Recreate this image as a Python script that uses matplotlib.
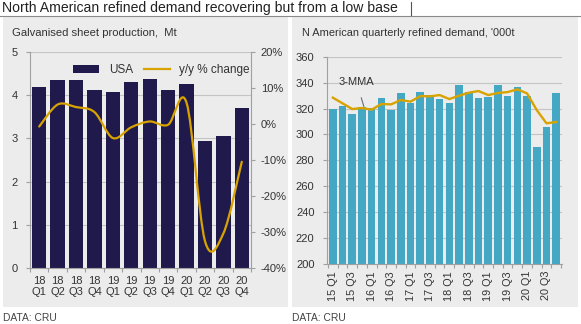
import matplotlib
matplotlib.use("Agg")
import matplotlib.pyplot as plt
from matplotlib.patches import Rectangle, Patch, PathPatch
from matplotlib.lines import Line2D
from matplotlib.path import Path
import numpy as np

plt.rcParams['font.family'] = ['Liberation Sans', 'DejaVu Sans']

# ---- data: left chart ----
left_quarters = ["18\nQ1", "18\nQ2", "18\nQ3", "18\nQ4", "19\nQ1", "19\nQ2",
                 "19\nQ3", "19\nQ4", "20\nQ1", "20\nQ2", "20\nQ3", "20\nQ4"]
usa_production = [4.2, 4.35, 4.35, 4.13, 4.07, 4.3, 4.38, 4.13, 4.27, 2.95, 3.05, 3.7]
yoy_change = [-0.7, 5.4, 4.7, 3.3, -3.9, -0.9, 0.7, -0.2, 5.9, -32.5, -30.4, -10.5]

# ---- data: right chart ----
right_quarters = [f"{y} Q{q}" for y in range(15, 21) for q in range(1, 5)]
na_demand = [320, 322, 316, 321, 320.5, 328.4, 319, 332, 324, 332.5, 330.4, 327.3,
             324, 338.4, 333, 328.4, 329, 337.9, 330, 336.6, 330, 290, 305.5, 332]
mma3 = [328.4, 324, 319.6, 320.4, 319.1, 323.5, 323.2, 326.6, 325.3, 329.6, 329.4, 330.4,
        327.3, 329.9, 332.2, 333.5, 330.4, 332, 332.7, 334.8, 331.7, 318.8, 308.6, 309.6]

NAVY = "#1f1a4b"
TEAL = "#44a8c5"
GOLD = "#d8a300"
PANEL = "#ececec"
GRID = "#c4c4c4"
SPINE = "#a0a0a0"
TXT = "#333333"

W, H = 581, 324
fig = plt.figure(figsize=(W / 100, H / 100), dpi=100)
fig.patch.set_facecolor("white")

def fx(px):
    return px / W

def fy(py):
    return 1 - py / H

# panels
for x0, x1 in [(3, 288), (292, 578)]:
    fig.patches.append(Rectangle((fx(x0), fy(307)), fx(x1 - x0), (307 - 17) / H,
                                 transform=fig.transFigure, facecolor=PANEL,
                                 edgecolor="none", zorder=-5))

# title + rule
fig.text(fx(2), fy(8), "North American refined demand recovering but from a low base",
         fontsize=10.1, color="#222222", va="center", ha="left")
fig.lines.append(Line2D([0, 1], [fy(16), fy(16)], transform=fig.transFigure,
                        color="#8a8a8a", lw=0.8))
fig.lines.append(Line2D([fx(411), fx(411)], [fy(2), fy(15)], transform=fig.transFigure,
                        color="#555555", lw=0.8))

fig.text(fx(12), fy(33), "Galvanised sheet production,  Mt", fontsize=8.1,
         color=TXT, va="center", ha="left")
fig.text(fx(302), fy(33), "N American quarterly refined demand, '000t", fontsize=7.9,
         color=TXT, va="center", ha="left")
fig.text(fx(3), fy(318), "DATA: CRU", fontsize=7.4, color="#444444", va="center")
fig.text(fx(292), fy(318), "DATA: CRU", fontsize=7.4, color="#444444", va="center")


def smooth_path(xs, ys):
    pts = np.column_stack([xs, ys]).astype(float)
    n = len(pts)
    verts = [pts[0]]
    codes = [Path.MOVETO]
    for i in range(n - 1):
        p0 = pts[max(i - 1, 0)]
        p1 = pts[i]
        p2 = pts[i + 1]
        p3 = pts[min(i + 2, n - 1)]
        c1 = p1 + (p2 - p0) / 6.0
        c2 = p2 - (p3 - p1) / 6.0
        verts += [c1, c2, p2]
        codes += [Path.CURVE4] * 3
    return Path(verts, codes)


def style_axes(ax):
    ax.set_facecolor("none")
    for s in ["top", "right"]:
        ax.spines[s].set_visible(False)
    ax.spines["left"].set_color(SPINE)
    ax.spines["bottom"].set_color(SPINE)
    ax.tick_params(axis="both", colors=SPINE, labelcolor=TXT, labelsize=8, length=3, width=0.8)
    ax.grid(axis="y", color=GRID, lw=0.8)
    ax.set_axisbelow(True)


# ---- left chart ----
axL = fig.add_axes([fx(30), fy(268), fx(251 - 30), (268 - 52) / H])
style_axes(axL)
xl = np.arange(len(usa_production))
axL.bar(xl, usa_production, width=0.78, color=NAVY, zorder=2)
axL.set_xlim(-0.5, len(xl) - 0.5)
axL.set_ylim(0, 5)
axL.set_yticks([0, 1, 2, 3, 4, 5])
axL.set_xticks(xl)
axL.set_xticklabels(left_quarters, fontsize=8, linespacing=1.12)
axL.tick_params(axis="x", which="major", length=0, pad=6)
axL.set_xticks(np.arange(-0.5, len(xl), 1), minor=True)
axL.tick_params(axis="x", which="minor", length=3, colors=SPINE, width=0.8)
axL.tick_params(axis="y", pad=6)

axR2 = axL.twinx()
axR2.set_ylim(-40, 20)
axR2.set_yticks([-40, -30, -20, -10, 0, 10, 20])
axR2.set_yticklabels([f"{v}%" for v in [-40, -30, -20, -10, 0, 10, 20]])
for s in ["top", "left", "bottom"]:
    axR2.spines[s].set_visible(False)
axR2.spines["right"].set_color(SPINE)
axR2.tick_params(axis="y", colors=SPINE, labelcolor=TXT, labelsize=8, length=3, width=0.8, pad=4)
axR2.add_patch(PathPatch(smooth_path(xl, yoy_change), facecolor="none",
                         edgecolor=GOLD, lw=1.6, zorder=3, capstyle="round"))

handles = [Patch(facecolor=NAVY, edgecolor="none", label="USA"),
           Line2D([0], [0], color=GOLD, lw=1.6, label="y/y % change")]
axL.legend(handles=handles, loc="center", bbox_to_anchor=(0.595, 0.917), ncol=2,
           frameon=False, fontsize=8.5, handlelength=2.2, handleheight=0.6,
           columnspacing=0.9, handletextpad=0.8, labelcolor=TXT)

# ---- right chart ----
axB = fig.add_axes([fx(327), fy(264), fx(562 - 327), (264 - 56.7) / H])
style_axes(axB)
xr = np.arange(len(na_demand))
axB.bar(xr, na_demand, width=0.78, color=TEAL, zorder=2)
axB.plot(xr, mma3, color=GOLD, lw=1.7, zorder=3)
axB.set_xlim(-0.6, len(xr) - 0.4)
axB.set_ylim(200, 360)
axB.set_yticks(range(200, 361, 20))
axB.tick_params(axis="y", pad=6)
axB.set_xticks(xr[::2])
axB.set_xticklabels(right_quarters[::2], rotation=90, fontsize=7.8)
axB.tick_params(axis="x", which="major", length=0, pad=5)
axB.set_xticks(np.arange(-0.5, len(xr), 1), minor=True)
axB.tick_params(axis="x", which="minor", length=3, colors=SPINE, width=0.8)
axB.annotate("3-MMA", xy=(3.2, 321.5), xytext=(0.6, 340.5), fontsize=8, color=TXT,
             ha="left", va="center",
             arrowprops=dict(arrowstyle="-", color="#6a6a80", lw=0.8,
                             shrinkA=6, shrinkB=0))

fig.savefig("out.png", dpi=100, facecolor="white")
